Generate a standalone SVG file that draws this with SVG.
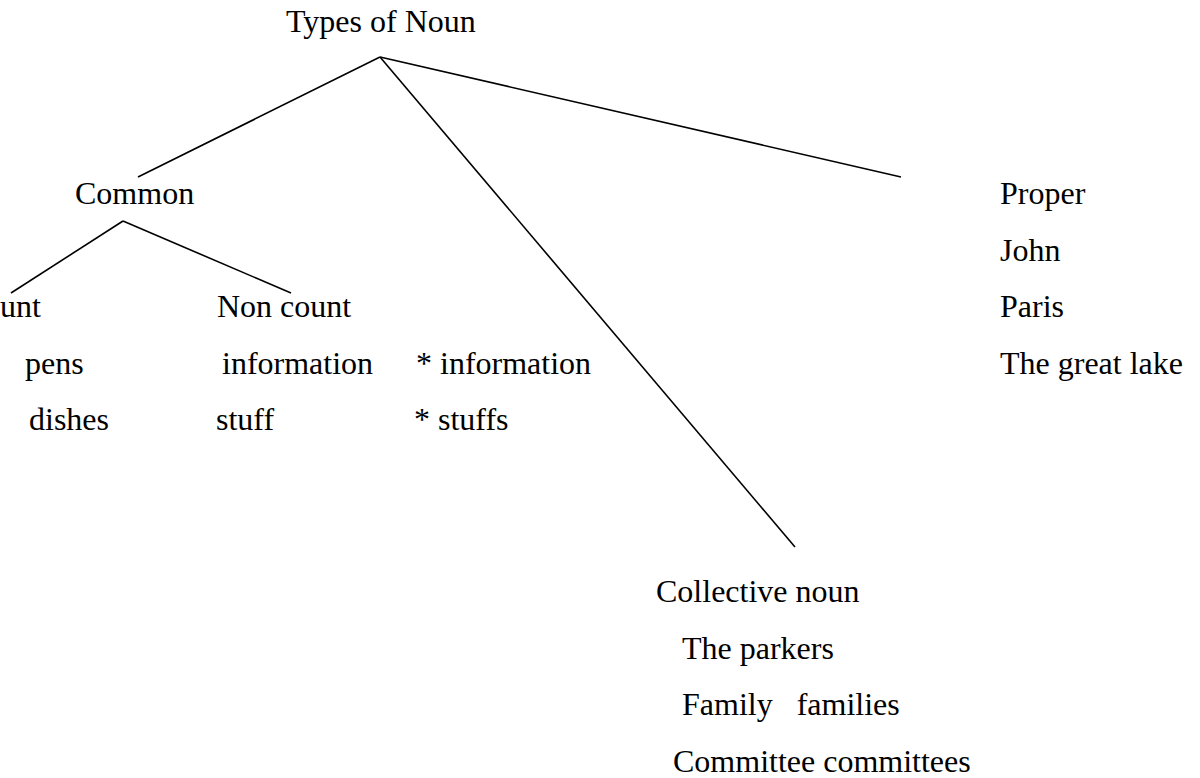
<svg xmlns="http://www.w3.org/2000/svg" width="1200" height="778" viewBox="0 0 1200 778">
<style>
text{font-family:"Liberation Serif","Times New Roman",serif;font-size:32px;fill:#000}
line{stroke:#000;stroke-width:1.6;fill:none}
</style>
<rect width="1200" height="778" fill="#fff"/>
<g id="connectors">
<line x1="380" y1="57" x2="138" y2="177"/>
<line x1="380" y1="57" x2="901" y2="177"/>
<line x1="380" y1="57" x2="795" y2="547"/>
<line x1="123" y1="221" x2="11" y2="293"/>
<line x1="123" y1="221" x2="291" y2="293"/>
</g>
<g id="root"><text x="286" y="32">Types of Noun</text></g>
<g id="common"><text x="75" y="204">Common</text></g>
<g id="count">
<text x="0" y="317">unt</text>
<text x="25" y="374">pens</text>
<text x="29" y="430">dishes</text>
</g>
<g id="noncount">
<text x="217" y="317">Non count</text>
<text x="222" y="374">information</text>
<text x="216" y="430">stuff</text>
</g>
<g id="incorrect">
<text x="416" y="374">* information</text>
<text x="414" y="430">* stuffs</text>
</g>
<g id="proper">
<text x="1000" y="204">Proper</text>
<text x="1000" y="261">John</text>
<text x="1000" y="317">Paris</text>
<text x="1000" y="374">The great lake</text>
</g>
<g id="collective">
<text x="656" y="602">Collective noun</text>
<text x="682" y="659">The parkers</text>
<text x="682" y="715" xml:space="preserve">Family   families</text>
<text x="673" y="772">Committee committees</text>
</g>
</svg>
